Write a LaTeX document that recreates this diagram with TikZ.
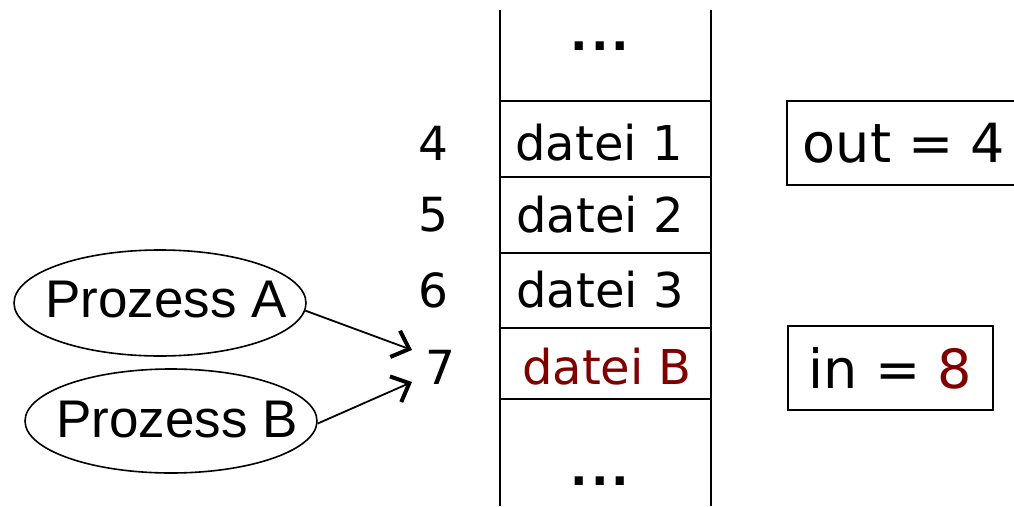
\documentclass[tikz,border=0pt]{standalone}
\usepackage{fontspec}
\setmainfont{DejaVu Sans}
\newfontfamily\arialfont{Liberation Sans}
\usetikzlibrary{arrows.meta,shapes.geometric}
\definecolor{darkred}{HTML}{800000}
\begin{document}
\begin{tikzpicture}[x=1pt,y=-1pt,
  line/.style={draw=black,line width=1.8pt},
  celltext/.style={inner sep=0pt,font=\fontsize{48}{52}\selectfont},
  numtext/.style={inner sep=0pt,font=\fontsize{47}{52}\selectfont},
  dots/.style={inner sep=0pt,font=\bfseries\fontsize{46}{52}\selectfont},
  varbox/.style={draw=black,line width=1.6pt,inner sep=0pt,font=\fontsize{54}{60}\selectfont},
  procshape/.style={draw=black,line width=1.6pt,ellipse,inner sep=0pt},
  proctext/.style={font=\arialfont\fontsize{53}{58}\selectfont,inner sep=0pt},
  arr/.style={line width=1.8pt,-{Straight Barb[length=15pt,width=28pt,line width=4pt]}}]
\useasboundingbox (0,0) rectangle (1014,506);
% stack
\draw[line] (500,10) -- (500,506);
\draw[line] (711,10) -- (711,506);
\foreach \yy in {101,177,253,328,399} {\draw[line] (500,\yy) -- (711,\yy);}
\node[dots] (dtop) at (600,46) {.\kern3pt.\kern3pt.};
\node[celltext] (c1) at (599,143) {datei 1};
\node[celltext] (c2) at (600,215) {datei 2};
\node[celltext] (c3) at (600,290) {datei 3};
\node[celltext,text=darkred] (c4) at (607,367) {datei B};
\node[dots] (dbot) at (600,481) {.\kern3pt.\kern3pt.};
% indices
\node[numtext] (n4) at (433,143) {4};
\node[numtext] (n5) at (433,215) {5};
\node[numtext] (n6) at (433,290) {6};
\node[numtext] (n7) at (440,367) {7};
% variable boxes
\node[varbox,minimum width=228pt,minimum height=84pt] (out) at (901,143) {\hspace*{6pt}out = 4};
\node[varbox,minimum width=205pt,minimum height=84pt] (in) at (890.5,368) {in = {\color{darkred}8}};
% processes
\node[procshape,minimum width=292pt,minimum height=106pt] (pa) at (160,303) {};
\node[proctext] (pat) at (166,300) {Prozess A};
\node[procshape,minimum width=292pt,minimum height=104pt] (pb) at (171,421) {};
\node[proctext] (pbt) at (177,420) {Prozess B};
\coordinate (ta) at (412,350);
\coordinate (tb) at (412,382);
\draw[arr] (pa.-3) -- (ta);
\draw[arr] (pb.-1) -- (tb);
\end{tikzpicture}
\end{document}
